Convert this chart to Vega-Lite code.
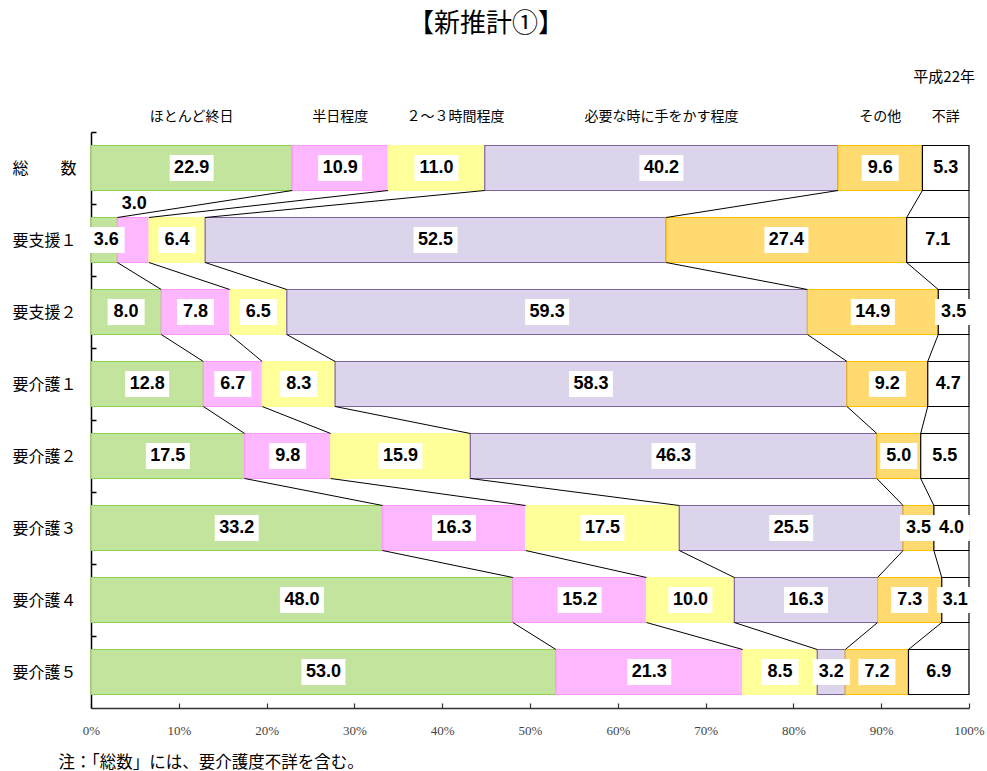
{
  "$schema": "https://vega.github.io/schema/vega-lite/v6.json",
  "width": 878,
  "height": 576,
  "autosize": "none",
  "padding": {"left": 91, "top": 132, "right": 18, "bottom": 63},
  "background": "white",
  "title": {"text": "【新推計①】", "font": "Noto Sans CJK JP", "fontSize": 26, "fontWeight": "normal", "color": "#000", "anchor": "middle", "dx": -44, "offset": 33},
  "config": {"view": {"stroke": null}},
  "data": {"values": [
    {"row": "総　　数", "ri": 0, "k": 0, "seg": "ほとんど終日", "value": 22.9},
    {"row": "総　　数", "ri": 0, "k": 1, "seg": "半日程度", "value": 10.9},
    {"row": "総　　数", "ri": 0, "k": 2, "seg": "２～３時間程度", "value": 11.0},
    {"row": "総　　数", "ri": 0, "k": 3, "seg": "必要な時に手をかす程度", "value": 40.2},
    {"row": "総　　数", "ri": 0, "k": 4, "seg": "その他", "value": 9.6},
    {"row": "総　　数", "ri": 0, "k": 5, "seg": "不詳", "value": 5.3},
    {"row": "要支援１", "ri": 1, "k": 0, "seg": "ほとんど終日", "value": 3.0},
    {"row": "要支援１", "ri": 1, "k": 1, "seg": "半日程度", "value": 3.6},
    {"row": "要支援１", "ri": 1, "k": 2, "seg": "２～３時間程度", "value": 6.4},
    {"row": "要支援１", "ri": 1, "k": 3, "seg": "必要な時に手をかす程度", "value": 52.5},
    {"row": "要支援１", "ri": 1, "k": 4, "seg": "その他", "value": 27.4},
    {"row": "要支援１", "ri": 1, "k": 5, "seg": "不詳", "value": 7.1},
    {"row": "要支援２", "ri": 2, "k": 0, "seg": "ほとんど終日", "value": 8.0},
    {"row": "要支援２", "ri": 2, "k": 1, "seg": "半日程度", "value": 7.8},
    {"row": "要支援２", "ri": 2, "k": 2, "seg": "２～３時間程度", "value": 6.5},
    {"row": "要支援２", "ri": 2, "k": 3, "seg": "必要な時に手をかす程度", "value": 59.3},
    {"row": "要支援２", "ri": 2, "k": 4, "seg": "その他", "value": 14.9},
    {"row": "要支援２", "ri": 2, "k": 5, "seg": "不詳", "value": 3.5},
    {"row": "要介護１", "ri": 3, "k": 0, "seg": "ほとんど終日", "value": 12.8},
    {"row": "要介護１", "ri": 3, "k": 1, "seg": "半日程度", "value": 6.7},
    {"row": "要介護１", "ri": 3, "k": 2, "seg": "２～３時間程度", "value": 8.3},
    {"row": "要介護１", "ri": 3, "k": 3, "seg": "必要な時に手をかす程度", "value": 58.3},
    {"row": "要介護１", "ri": 3, "k": 4, "seg": "その他", "value": 9.2},
    {"row": "要介護１", "ri": 3, "k": 5, "seg": "不詳", "value": 4.7},
    {"row": "要介護２", "ri": 4, "k": 0, "seg": "ほとんど終日", "value": 17.5},
    {"row": "要介護２", "ri": 4, "k": 1, "seg": "半日程度", "value": 9.8},
    {"row": "要介護２", "ri": 4, "k": 2, "seg": "２～３時間程度", "value": 15.9},
    {"row": "要介護２", "ri": 4, "k": 3, "seg": "必要な時に手をかす程度", "value": 46.3},
    {"row": "要介護２", "ri": 4, "k": 4, "seg": "その他", "value": 5.0},
    {"row": "要介護２", "ri": 4, "k": 5, "seg": "不詳", "value": 5.5},
    {"row": "要介護３", "ri": 5, "k": 0, "seg": "ほとんど終日", "value": 33.2},
    {"row": "要介護３", "ri": 5, "k": 1, "seg": "半日程度", "value": 16.3},
    {"row": "要介護３", "ri": 5, "k": 2, "seg": "２～３時間程度", "value": 17.5},
    {"row": "要介護３", "ri": 5, "k": 3, "seg": "必要な時に手をかす程度", "value": 25.5},
    {"row": "要介護３", "ri": 5, "k": 4, "seg": "その他", "value": 3.5},
    {"row": "要介護３", "ri": 5, "k": 5, "seg": "不詳", "value": 4.0},
    {"row": "要介護４", "ri": 6, "k": 0, "seg": "ほとんど終日", "value": 48.0},
    {"row": "要介護４", "ri": 6, "k": 1, "seg": "半日程度", "value": 15.2},
    {"row": "要介護４", "ri": 6, "k": 2, "seg": "２～３時間程度", "value": 10.0},
    {"row": "要介護４", "ri": 6, "k": 3, "seg": "必要な時に手をかす程度", "value": 16.3},
    {"row": "要介護４", "ri": 6, "k": 4, "seg": "その他", "value": 7.3},
    {"row": "要介護４", "ri": 6, "k": 5, "seg": "不詳", "value": 3.1},
    {"row": "要介護５", "ri": 7, "k": 0, "seg": "ほとんど終日", "value": 53.0},
    {"row": "要介護５", "ri": 7, "k": 1, "seg": "半日程度", "value": 21.3},
    {"row": "要介護５", "ri": 7, "k": 2, "seg": "２～３時間程度", "value": 8.5},
    {"row": "要介護５", "ri": 7, "k": 3, "seg": "必要な時に手をかす程度", "value": 3.2},
    {"row": "要介護５", "ri": 7, "k": 4, "seg": "その他", "value": 7.2},
    {"row": "要介護５", "ri": 7, "k": 5, "seg": "不詳", "value": 6.9}
  ]},
  "transform": [
    {"stack": "value", "groupby": ["row"], "sort": [{"field": "k", "order": "ascending"}], "offset": "normalize", "as": ["x0", "x1"]},
    {"calculate": "(datum.x0 + datum.x1) / 2", "as": "mid"}
  ],
  "encoding": {
    "y": {
      "field": "row", "type": "nominal",
      "sort": ["総　　数", "要支援１", "要支援２", "要介護１", "要介護２", "要介護３", "要介護４", "要介護５"],
      "scale": {"paddingInner": 0.375, "paddingOuter": 0.1875},
      "axis": {
        "title": null, "labelFont": "Noto Sans CJK JP", "labelFontSize": 16, "labelColor": "#000",
        "domainColor": "#000", "domainWidth": 1.5, "tickColor": "#000", "tickWidth": 1.5, "tickSize": -5,
        "bandPosition": 0.5, "tickOffset": -36, "labelOffset": 36, "labelPadding": 20
      }
    }
  },
  "layer": [
    {
      "mark": {"type": "bar", "strokeWidth": 1.2},
      "encoding": {
        "x": {
          "field": "x0", "type": "quantitative", "scale": {"domain": [0, 1]},
          "axis": {
            "format": "%", "values": [0, 0.1, 0.2, 0.3, 0.4, 0.5, 0.6, 0.7, 0.8, 0.9, 1],
            "labelFont": "Liberation Serif", "labelFontSize": 13, "labelColor": "#444", "labelFlush": false,
            "domainColor": "#333", "domainWidth": 1.5, "tickColor": "#333", "tickWidth": 1.2, "tickSize": -5,
            "labelPadding": 21, "grid": false,
            "title": "注：「総数」には、要介護度不詳を含む。", "titleFont": "Noto Sans CJK JP", "titleFontSize": 16.5,
            "titleFontWeight": "normal", "titleColor": "#000", "titleAnchor": "start", "titleAlign": "left",
            "titleX": -33, "titleY": 54, "titleBaseline": "middle"
          }
        },
        "x2": {"field": "x1"},
        "fill": {
          "field": "seg", "type": "nominal", "legend": null,
          "scale": {
            "domain": ["ほとんど終日", "半日程度", "２～３時間程度", "必要な時に手をかす程度", "その他", "不詳"],
            "range": ["#C3E49C", "#FFB8FF", "#FFFF99", "#DCD4EA", "#FFDA70", "#FFFFFF"]
          }
        },
        "stroke": {
          "field": "seg", "type": "nominal", "legend": null,
          "scale": {
            "domain": ["ほとんど終日", "半日程度", "２～３時間程度", "必要な時に手をかす程度", "その他", "不詳"],
            "range": ["#92D050", "#FF99FF", "#FFFF99", "#8064A2", "#FFC000", "#000000"]
          }
        }
      }
    },
    {
      "transform": [
        {"window": [{"op": "lead", "field": "x1", "as": "nx1"}, {"op": "lead", "field": "row", "as": "nrow"}], "groupby": ["k"], "sort": [{"field": "ri", "order": "ascending"}]},
        {"filter": "datum.nrow != null"}
      ],
      "mark": {"type": "rule", "color": "#000", "strokeWidth": 1, "yOffset": 22.5, "y2Offset": -22.5},
      "encoding": {
        "x": {"field": "x1", "type": "quantitative"},
        "x2": {"field": "nx1"},
        "y2": {"field": "nrow"}
      }
    },
    {
      "transform": [{"filter": "datum.value >= 10"}],
      "mark": {"type": "point", "filled": true, "fill": "#FFFFFF", "opacity": 1, "strokeWidth": 0, "shape": "M-1,-0.59H1V0.59H-1Z", "size": 1936},
      "encoding": {"x": {"field": "mid", "type": "quantitative"}}
    },
    {
      "transform": [{"filter": "datum.value < 10 && !(datum.row == '要支援１' && datum.k <= 1)"}],
      "mark": {"type": "point", "filled": true, "fill": "#FFFFFF", "opacity": 1, "strokeWidth": 0, "shape": "M-1,-0.7H1V0.7H-1Z", "size": 1369},
      "encoding": {"x": {"field": "mid", "type": "quantitative"}}
    },
    {
      "transform": [{"filter": "datum.row == '要支援１' && datum.k == 1"}],
      "mark": {"type": "point", "filled": true, "fill": "#FFFFFF", "opacity": 1, "strokeWidth": 0, "shape": "M-1,-0.7H1V0.7H-1Z", "size": 1369, "xOffset": -27},
      "encoding": {"x": {"field": "mid", "type": "quantitative"}}
    },
    {
      "transform": [{"filter": "!(datum.row == '要支援１' && datum.k <= 1)"}],
      "mark": {"type": "text", "font": "Liberation Sans", "fontSize": 18, "fontWeight": "bold", "color": "#000", "baseline": "middle", "align": "center"},
      "encoding": {"x": {"field": "mid", "type": "quantitative"}, "text": {"field": "value", "type": "quantitative", "format": ".1f"}}
    },
    {
      "transform": [{"filter": "datum.row == '要支援１' && datum.k == 1"}],
      "mark": {"type": "text", "font": "Liberation Sans", "fontSize": 18, "fontWeight": "bold", "color": "#000", "baseline": "middle", "align": "center", "xOffset": -27},
      "encoding": {"x": {"field": "mid", "type": "quantitative"}, "text": {"field": "value", "type": "quantitative", "format": ".1f"}}
    },
    {
      "transform": [{"filter": "datum.row == '要支援１' && datum.k == 0"}],
      "mark": {"type": "text", "font": "Liberation Sans", "fontSize": 18, "fontWeight": "bold", "color": "#000", "baseline": "middle", "align": "center", "xOffset": 30, "yOffset": -36},
      "encoding": {"x": {"field": "mid", "type": "quantitative"}, "text": {"field": "value", "type": "quantitative", "format": ".1f"}}
    },
    {
      "transform": [{"filter": "datum.ri == 0 && datum.k != 2"}],
      "mark": {"type": "text", "font": "Noto Sans CJK JP", "fontSize": 14, "color": "#000", "baseline": "middle", "align": "center", "yOffset": -51},
      "encoding": {"x": {"field": "mid", "type": "quantitative"}, "text": {"field": "seg", "type": "nominal"}}
    },
    {
      "transform": [{"filter": "datum.ri == 0 && datum.k == 2"}],
      "mark": {"type": "text", "font": "Noto Sans CJK JP", "fontSize": 14, "color": "#000", "baseline": "middle", "align": "center", "yOffset": -51, "xOffset": 19},
      "encoding": {"x": {"field": "mid", "type": "quantitative"}, "text": {"field": "seg", "type": "nominal"}}
    },
    {
      "transform": [{"filter": "datum.ri == 0 && datum.k == 5"}],
      "mark": {"type": "text", "font": "Noto Sans CJK JP", "fontSize": 15, "color": "#000", "baseline": "middle", "align": "right", "yOffset": -91, "xOffset": 6},
      "encoding": {"x": {"datum": 1, "type": "quantitative"}, "text": {"value": "平成22年"}}
    }
  ]
}
